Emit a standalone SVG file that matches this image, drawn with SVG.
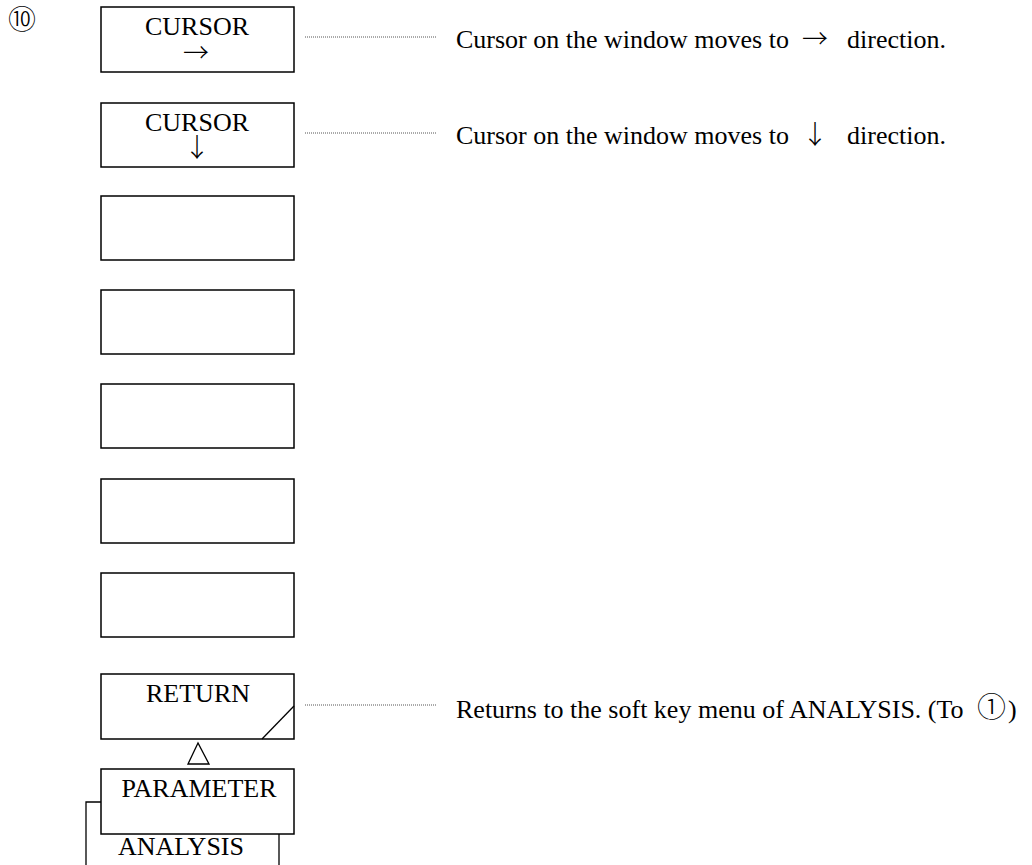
<svg xmlns="http://www.w3.org/2000/svg" width="1032" height="865" viewBox="0 0 1032 865">
<style>
.box{fill:#fff;stroke:#000;stroke-width:1.5}
.t{font-family:"Liberation Serif","Noto Sans CJK JP",serif;font-size:26px;fill:#000}
.c{text-anchor:middle}
.cjk{font-family:"Noto Sans CJK JP","Liberation Serif",sans-serif;font-weight:300}
.dot{stroke:#555;stroke-width:1;stroke-dasharray:1 1;fill:none}
.ln{stroke:#000;stroke-width:1.3;fill:none}
</style>
<rect width="1032" height="865" fill="#fff"/>
<text class="t cjk c" x="22" y="30" style="font-size:28px">⑩</text>
<g id="cursor-right">
<rect class="box" x="101" y="7" width="193" height="65"/>
<text class="t c" x="197" y="35">CURSOR</text>
<text class="t cjk c" x="196" y="62">→</text>
</g>
<g id="cursor-down">
<rect class="box" x="101" y="103" width="193" height="64"/>
<text class="t c" x="197" y="131">CURSOR</text>
<text class="t cjk c" x="197" y="157">↓</text>
</g>
<g id="blank1"><rect class="box" x="101" y="196" width="193" height="64"/></g>
<g id="blank2"><rect class="box" x="101" y="290" width="193" height="64"/></g>
<g id="blank3"><rect class="box" x="101" y="384" width="193" height="64"/></g>
<g id="blank4"><rect class="box" x="101" y="479" width="193" height="64"/></g>
<g id="blank5"><rect class="box" x="101" y="573" width="193" height="64"/></g>
<g id="return">
<rect class="box" x="101" y="674" width="193" height="65"/>
<text class="t c" x="198" y="702">RETURN</text>
<line class="ln" x1="262" y1="739" x2="294" y2="706"/>
</g>
<g id="analysis">
<path class="ln" d="M86 865 V802 H101 M279 834 V865"/>
<text class="t c" x="181" y="855">ANALYSIS</text>
</g>
<g id="parameter">
<rect class="box" x="101" y="769" width="193" height="65"/>
<text class="t c" x="199" y="797">PARAMETER</text>
</g>
<g id="connectors">
<line class="dot" x1="305" y1="37" x2="437" y2="37"/>
<line class="dot" x1="305" y1="133" x2="437" y2="133"/>
<line class="dot" x1="305" y1="705" x2="437" y2="705"/>
<polygon class="ln" points="198,743 188,764 209,764"/>
</g>
<g id="descriptions">
<text class="t" x="456" y="48">Cursor on the window moves to<tspan class="cjk" x="802">→</tspan><tspan x="847">direction.</tspan></text>
<text class="t" x="456" y="144">Cursor on the window moves to<tspan class="cjk" x="802">↓</tspan><tspan x="847">direction.</tspan></text>
<text class="t" x="456" y="718">Returns to the soft key menu of ANALYSIS. (To<tspan class="cjk" x="977" style="font-size:29px">①</tspan><tspan x="1008">)</tspan></text>
</g>
</svg>
